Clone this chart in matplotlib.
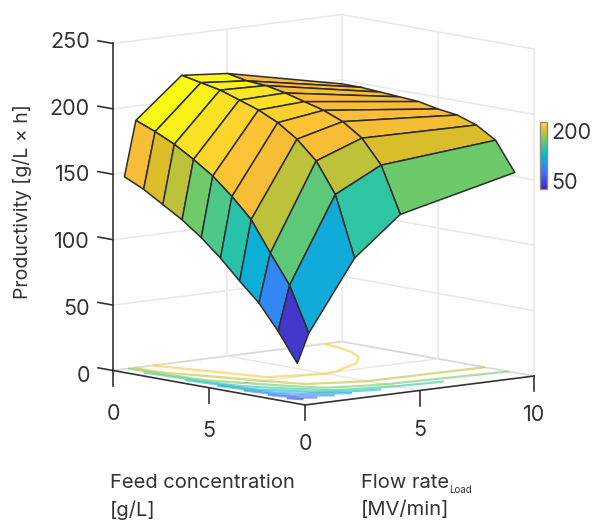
import numpy as np
import matplotlib
matplotlib.use('Agg')
import matplotlib.pyplot as plt
from matplotlib.colors import LinearSegmentedColormap, Normalize
from matplotlib.cm import ScalarMappable

plt.rcParams['font.family'] = ['Inter', 'DejaVu Sans']

# data
feed = [0, 1, 2, 3, 4, 5, 6, 7, 8, 9]
flow = [0.5, 1, 3, 5, 10]
productivity = [
    [147, 140, 131, 122, 111, 98, 83, 69, 50, 28],
    [189, 183, 176, 167, 157, 144, 129, 106, 84, 50],
    [219, 216, 213, 208, 203, 196, 186, 172, 149, 103],
    [216, 213, 212, 209, 205, 201, 195, 185, 167, 132],
    [197, 197, 196, 195, 194, 191, 189, 184, 175, 153],
]
# colour of each facet, in productivity units
facet_values = [
    [212, 202, 193, 171, 160, 146, 122, 92, 40],
    [227, 225, 222, 219, 216, 212, 193, 165, 118],
    [226, 225, 223, 221, 218, 216, 212, 193, 150],
    [213, 213, 213, 213, 213, 213, 210, 201, 170],
]
z_ticks = [0, 50, 100, 150, 200, 250]
feed_ticks = [0, 5]
flow_ticks = [0, 5, 10]
contour_levels = [40, 60, 80, 100, 120, 140, 160, 180, 200]
cbar_ticks = [50, 200]
clim = (26, 227)

parula = LinearSegmentedColormap.from_list('parula', [
    (0, (0.2422, 0.1504, 0.6603)), (0.125, (0.2803, 0.2782, 0.9221)),
    (0.25, (0.2440, 0.4358, 0.9988)), (0.375, (0.1540, 0.5902, 0.9218)),
    (0.5, (0.0297, 0.7082, 0.8163)), (0.625, (0.1938, 0.7758, 0.6251)),
    (0.75, (0.5044, 0.7993, 0.3480)), (0.875, (0.8634, 0.7406, 0.1596)),
    (0.9375, (0.9936, 0.7400, 0.2300)), (1, (0.9769, 0.9839, 0.0805))])
norm = Normalize(*clim)

W, H = 592, 522
fig = plt.figure(figsize=(W / 100, H / 100), dpi=100)
ax = fig.add_axes([0, 0, 1, 1], projection='3d', computed_zorder=False)
ax.set_proj_type('ortho')
ax.view_init(elev=8.66, azim=-40)
ax.set_xlim(0, 10)
ax.set_ylim(0, 10)
ax.set_zlim(0, 250)
ax.set_box_aspect((1, 1, 1.107))
ax.set_xticks([])
ax.set_yticks([])
ax.set_zticks([])
ax.set_axis_off()
ax.patch.set_alpha(0)

# back walls and floor
grid = dict(color='#e8e8e8', lw=1.1, zorder=1)
for z in z_ticks:
    ax.plot([0, 0, 10], [0, 10, 10], [z, z, z], **grid)
ax.plot([0, 0, 10], [0, 10, 10], [0, 0, 0], color='#d8d8d8', lw=1.1, zorder=1)
for c in feed_ticks[1:]:
    ax.plot([c, c], [0, 10], [0, 0], **grid)
    ax.plot([c, c], [10, 10], [0, 250], **grid)
for f in flow_ticks[1:-1]:
    ax.plot([0, 10], [f, f], [0, 0], **grid)
    ax.plot([0, 0], [f, f], [0, 250], **grid)
ax.plot([0, 0], [10, 10], [0, 250], **grid)
ax.plot([10, 10], [10, 10], [0, 250], **grid)

# contours on the floor
X, Y = np.meshgrid(feed, flow)
Z = np.array(productivity, dtype=float)
ax.contour(X, Y, Z, levels=contour_levels, zdir='z', offset=0, cmap=parula,
           norm=Normalize(clim[0], 210), linewidths=1.6, alpha=0.6, zorder=2)

# surface
cols = parula(norm(np.array(facet_values, dtype=float)))
surf = ax.plot_surface(X, Y, Z, facecolors=cols, rstride=1, cstride=1, shade=False,
                       linewidth=1.1, antialiased=True, zorder=5)
surf.set_edgecolor('#2c2c2c')

# axis lines and ticks
ax_style = dict(color='#333333', lw=1.2, zorder=6)
ax.plot([0, 0], [0, 0], [0, 250], **ax_style)
ax.plot([0, 10], [0, 0], [0, 0], **ax_style)
ax.plot([10, 10], [0, 10], [0, 0], **ax_style)
for z in z_ticks:
    ax.plot([0, -0.78], [0, 0], [z, z], **ax_style)
for c in feed_ticks:
    ax.plot([c, c], [0, 0], [0, -11.5], **ax_style)
for f in flow_ticks:
    ax.plot([10, 10], [f, f], [0, -11.5], **ax_style)

# line the box up with the pixel positions of the corners
fig.canvas.draw()
def to_px(x, y, z):
    p = ax.M @ np.array([x, y, z, 1.0])
    return ax.transData.transform((p[0] / p[3], p[1] / p[3]))
p0 = to_px(0, 0, 0)
p1 = to_px(10, 10, 0)
s = (534 - 113) / (p1[0] - p0[0])
ax.set_position([0, 0, s, s])
fig.canvas.draw()
p0 = to_px(0, 0, 0)
pos = ax.get_position()
ax.set_position([pos.x0 + (113 - p0[0]) / W, pos.y0 + ((H - 370.5) - p0[1]) / H, pos.width, pos.height])
fig.canvas.draw()

# tick labels, placed from the projected tick positions
def tick_label(x, y, z, label, ha):
    px = to_px(x, y, z)
    fig.text(px[0] / W, px[1] / H, label, fontsize=15.5, color='#333333', ha=ha, va='center')

for z in z_ticks:
    tick_label(-1.2, 0, z * 1.02 - 7, str(z), 'right')
for c in feed_ticks:
    tick_label(c, 0, -33, str(c), 'center')
for f in flow_ticks:
    tick_label(10, f, -30, str(f), 'center')

# colourbar
cax = fig.add_axes([539.5 / W, (H - 189) / H, 7.5 / W, 67 / H])
cb = fig.colorbar(ScalarMappable(norm=norm, cmap=parula), cax=cax)
cb.set_ticks(cbar_ticks)
cb.ax.tick_params(length=0, labelsize=15.5, labelcolor='#333333', pad=3)
cb.outline.set_edgecolor('#8a8a8a')
cb.outline.set_linewidth(1.0)

# axis titles
title = dict(fontsize=14.5, color='#333333', va='center')
fig.text(22 / W, 1 - 202 / H, 'Productivity [g/L × h]', rotation=90, ha='center',
         fontsize=14, color='#333333', va='center')
fig.text(110 / W, 1 - 483 / H, 'Feed concentration', **title)
fig.text(110 / W, 1 - 510 / H, '[g/L]', **title)
fig.text(361 / W, 1 - 483 / H, 'Flow rate', **title)
fig.text(449 / W, 1 - 490 / H, 'Load', fontsize=7, color='#333333', va='center')
fig.text(361 / W, 1 - 510 / H, '[MV/min]', **title)

fig.savefig('out.png', dpi=100)
